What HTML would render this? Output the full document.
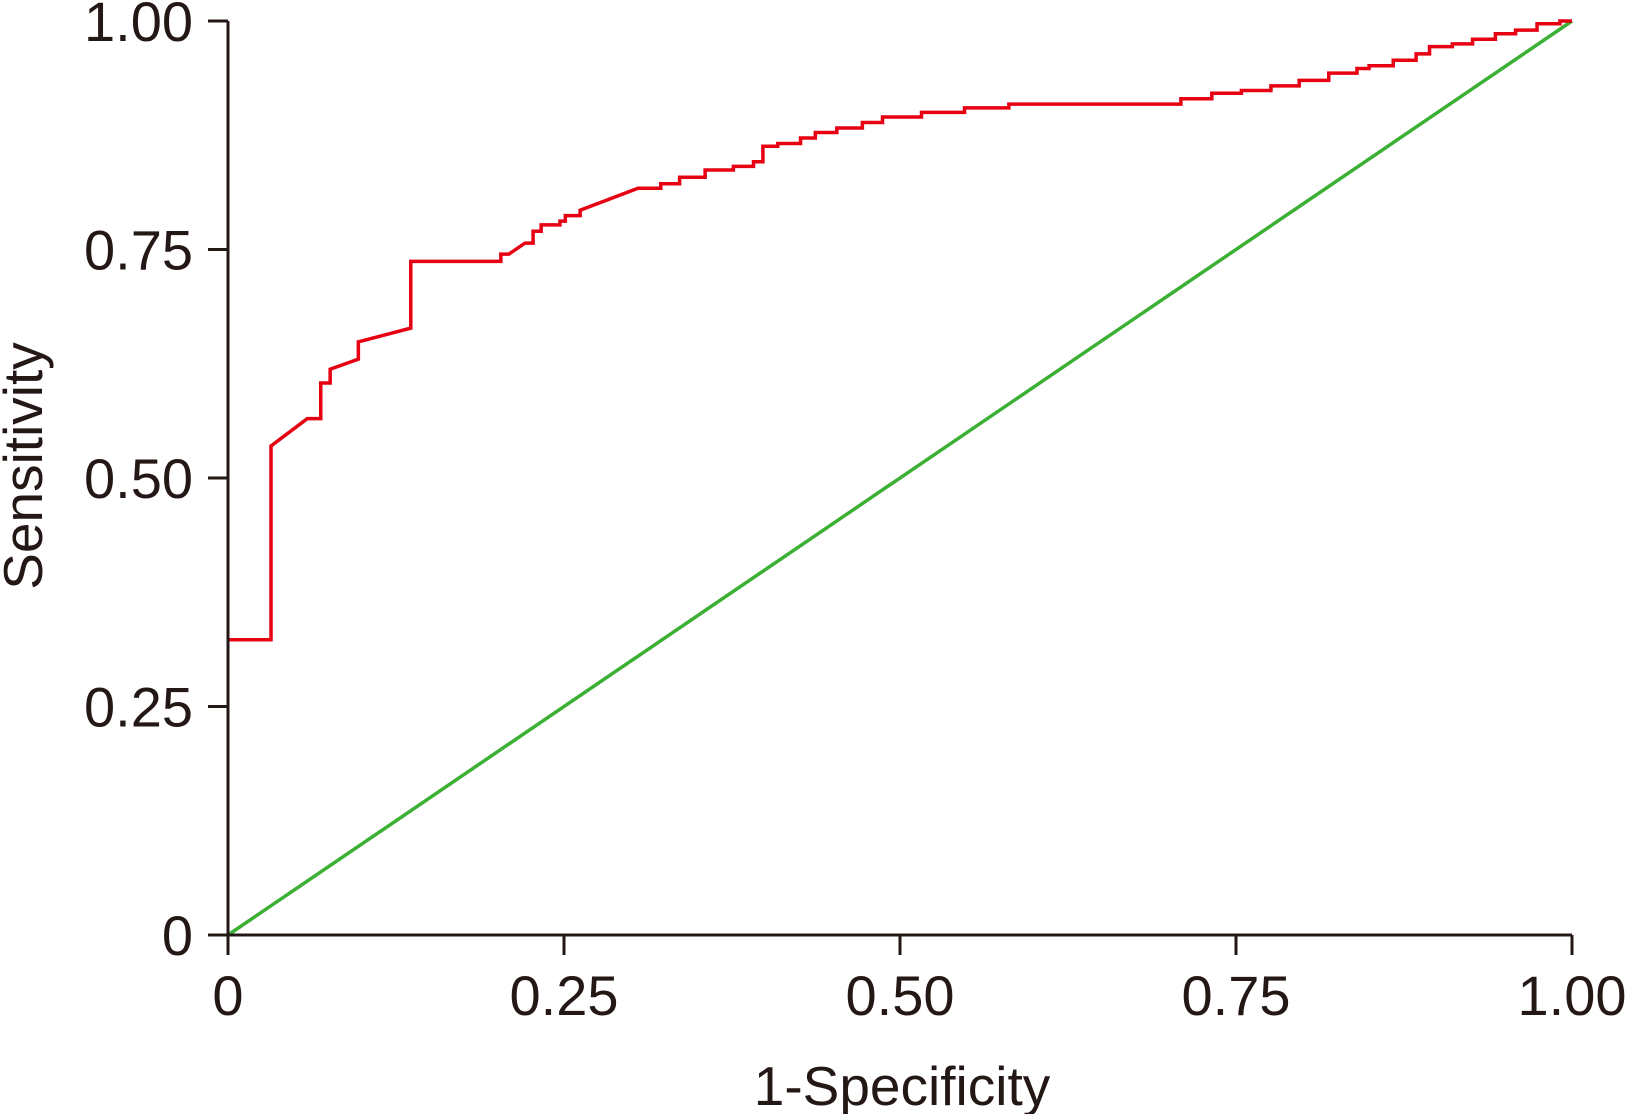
<!DOCTYPE html>
<html><head><meta charset="utf-8"><style>
html,body{margin:0;padding:0;background:#fff}
svg{display:block}
text{font-family:"Liberation Sans",sans-serif;fill:#231815}
</style></head><body>
<svg id="chart" width="1625" height="1114" viewBox="0 0 1625 1114"></svg>
<script>
const rocFpr=[0,0.032,0.032,0.059,0.069,0.069,0.076,0.076,0.097,0.097,0.136,0.136,0.203,0.203,0.209,0.221,0.227,0.227,0.233,0.233,0.247,0.247,0.251,0.251,0.262,0.262,0.305,0.322,0.322,0.336,0.336,0.355,0.355,0.376,0.376,0.391,0.391,0.398,0.398,0.409,0.409,0.426,0.426,0.437,0.437,0.453,0.453,0.472,0.472,0.487,0.487,0.516,0.516,0.548,0.548,0.581,0.581,0.709,0.709,0.732,0.732,0.754,0.754,0.776,0.776,0.797,0.797,0.819,0.819,0.840,0.840,0.849,0.849,0.867,0.867,0.884,0.884,0.894,0.894,0.911,0.911,0.926,0.926,0.943,0.943,0.958,0.958,0.974,0.974,0.991,0.991,1.0];
const rocTpr=[0.323,0.323,0.535,0.565,0.565,0.604,0.604,0.619,0.630,0.649,0.664,0.737,0.737,0.745,0.745,0.757,0.757,0.770,0.770,0.777,0.777,0.781,0.781,0.787,0.787,0.793,0.817,0.817,0.822,0.822,0.829,0.829,0.837,0.837,0.841,0.841,0.846,0.846,0.863,0.863,0.866,0.866,0.872,0.872,0.878,0.878,0.883,0.883,0.889,0.889,0.895,0.895,0.900,0.900,0.905,0.905,0.909,0.909,0.915,0.915,0.921,0.921,0.924,0.924,0.929,0.929,0.935,0.935,0.943,0.943,0.948,0.948,0.951,0.951,0.957,0.957,0.964,0.964,0.972,0.972,0.975,0.975,0.980,0.980,0.986,0.986,0.990,0.990,0.997,0.997,1.0,1.0];
const refFpr=[0,1];
const refTpr=[0,1];
const xTicks=[0,0.25,0.5,0.75,1];
const xTickLabels=["0","0.25","0.50","0.75","1.00"];
const yTicks=[0,0.25,0.5,0.75,1];
const yTickLabels=["0","0.25","0.50","0.75","1.00"];

const NS="http://www.w3.org/2000/svg";
const svg=document.getElementById('chart');
const X0=228,X1=1572,Y0=935,Y1=21;
const sx=v=>X0+v*(X1-X0);
const sy=v=>Y0-v*(Y0-Y1);
function mk(tag,attrs){const e=document.createElementNS(NS,tag);for(const k in attrs)e.setAttribute(k,attrs[k]);svg.appendChild(e);return e;}

const ref=mk('polyline',{points:refFpr.map((f,i)=>sx(f)+','+sy(refTpr[i])).join(' '),fill:'none',stroke:'#3cb034','stroke-width':3.5});



const roc=mk('polyline',{points:rocFpr.map((f,i)=>sx(f)+','+sy(rocTpr[i])).join(' '),fill:'none',stroke:'#e60012','stroke-width':3.5,'stroke-linejoin':'miter'});



const xa=mk('line',{x1:X0-18,y1:Y0,x2:X1,y2:Y0,stroke:'#231815','stroke-width':3});


const ya=mk('line',{x1:X0,y1:Y1,x2:X0,y2:Y0+20,stroke:'#231815','stroke-width':3});



xTicks.forEach((t,i)=>{
  const l=mk('line',{x1:sx(t),y1:Y0,x2:sx(t),y2:Y0+20,stroke:'#231815','stroke-width':3});
  
  
  const tx=mk('text',{x:sx(t),y:1015,'font-size':56,'text-anchor':'middle'});
  tx.textContent=xTickLabels[i];
  
  
});
yTicks.forEach((t,i)=>{
  const l=mk('line',{x1:X0-20,y1:sy(t),x2:X0,y2:sy(t),stroke:'#231815','stroke-width':3});
  
  
  const tx=mk('text',{x:193,y:sy(t)+20,'font-size':56,'text-anchor':'end'});
  tx.textContent=yTickLabels[i];
  
  
});
const xt=mk('text',{x:902,y:1105,'font-size':55,'text-anchor':'middle'});
xt.textContent='1-Specificity';


const yt=mk('text',{x:0,y:0,'font-size':55,'text-anchor':'middle',transform:'translate(42,466) rotate(-90)'});
yt.textContent='Sensitivity';


</script>
</body></html>
